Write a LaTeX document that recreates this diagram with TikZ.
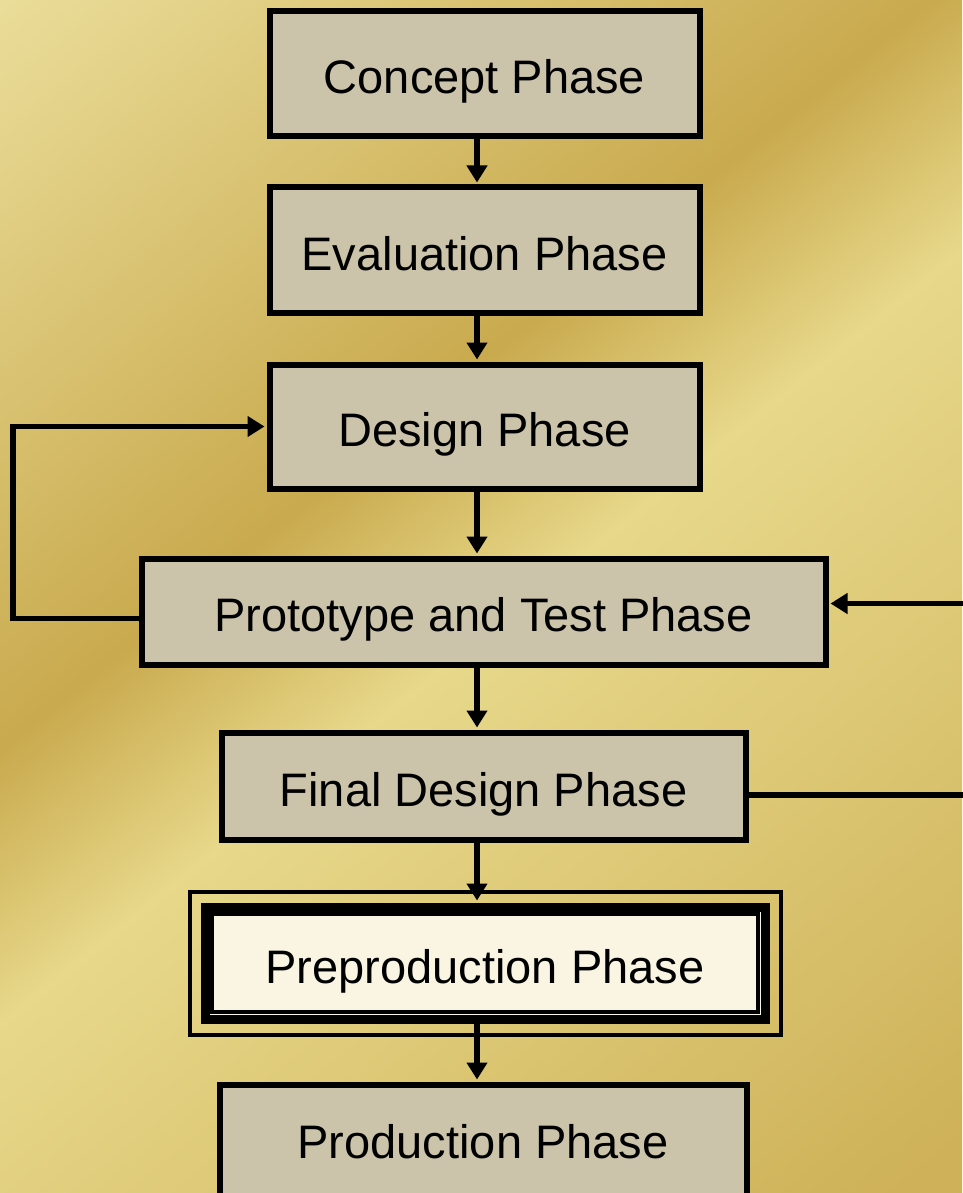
\documentclass[tikz,border=0pt]{standalone}
\usepackage{fontspec}
\setmainfont{Liberation Sans}
\usetikzlibrary{arrows.meta}

\definecolor{goldlight}{RGB}{234,221,153}
\definecolor{golddark}{RGB}{201,170,78}
\definecolor{goldpale}{RGB}{231,216,138}
\definecolor{golddeep}{RGB}{206,177,88}
\definecolor{boxgray}{RGB}{203,196,170}
\definecolor{precream}{RGB}{249,245,226}

\pgfdeclarehorizontalshading{goldbands}{100bp}{color(0bp)=(goldlight); color(25bp)=(goldlight); color(44bp)=(golddark); color(51bp)=(goldpale); color(74bp)=(golddeep); color(100bp)=(golddeep)}

\begin{document}
\begin{tikzpicture}[x=1pt,y=-1pt,
    phase/.style={draw=black, line width=6pt, fill=boxgray, inner sep=0pt,
      text height=40pt, text depth=0pt, font=\fontsize{47}{56}\selectfont},
    prephase/.style={phase, fill=precream, line width=9pt},
    flow/.style={line width=5.5pt, -{Triangle[length=17pt,width=20pt]}, shorten >=2pt}]
    % Page and background
    \useasboundingbox (0,0) rectangle (962,1193);
    \begin{scope}
      \clip (0,0) rectangle (962,1193);
      \shade[shading=goldbands, shading angle=-51.2] (-285,-169.5) rectangle (1247,1362.5);
    \end{scope}

    % Define the phases
    \node[phase, minimum width=430pt, minimum height=125pt] (concept) at (484.5,74) {Concept Phase};
    \node[phase, minimum width=430pt, minimum height=125pt] (evaluation) at (484.5,250) {Evaluation Phase};
    \node[phase, minimum width=430pt, minimum height=124pt] (design) at (484.5,426.5) {Design Phase};
    \node[phase, minimum width=684pt, minimum height=106pt] (prototype) at (483.5,611.5) {Prototype and Test Phase};
    \node[phase, minimum width=524pt, minimum height=107pt] (final) at (483.5,786) {Final Design Phase};
    \node[prephase, minimum width=560pt, minimum height=112pt] (preproduction) at (485,963) {Preproduction Phase};
    \node[phase, minimum width=527pt, minimum height=125pt, text depth=18pt] (production) at (483,1147) {Production Phase};

    % Frames round the preproduction phase
    \draw[line width=4pt] ([shift={(11.5,11.5)}]preproduction.north west) rectangle ([shift={(-11.5,-11.5)}]preproduction.south east);
    \draw[line width=4pt] ([shift={(-11,-11)}]preproduction.north west) rectangle ([shift={(11,11)}]preproduction.south east);

    % Rails for the arrows
    \coordinate (spine) at (477,0);
    \coordinate (leftrail) at (13,0);
    \coordinate (rightrail) at (985,0);
    \coordinate (protoleft) at ([yshift=-7pt]prototype.west);
    \coordinate (protoright) at ([yshift=8pt]prototype.east);
    \coordinate (finalright) at ([yshift=-9pt]final.east);

    % Draw the flow
    \draw[flow] (concept.south -| spine) -- (evaluation.north -| spine);
    \draw[flow] (evaluation.south -| spine) -- (design.north -| spine);
    \draw[flow] (design.south -| spine) -- (prototype.north -| spine);
    \draw[flow] (prototype.south -| spine) -- (final.north -| spine);
    \draw[flow] (final.south -| spine) -- (preproduction.north -| spine);
    \draw[flow] (preproduction.south -| spine) -- (production.north -| spine);

    % Draw the loops back
    \draw[flow] (protoleft) -- (protoleft -| leftrail) |- (design.west);
    \draw[flow] (finalright) -- (finalright -| rightrail) |- (protoright);
\end{tikzpicture}
\end{document}
